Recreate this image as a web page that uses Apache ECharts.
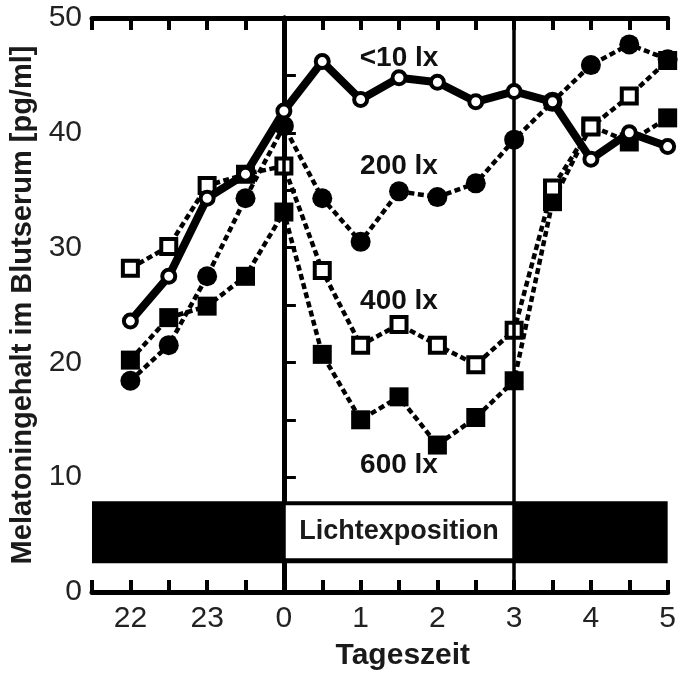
<!DOCTYPE html>
<html>
<head>
<meta charset="utf-8">
<script src="https://cdn.jsdelivr.net/npm/echarts@6/dist/echarts.min.js"></script>
<style>
  html, body { margin: 0; padding: 0; background: #fff; }
  #chart { width: 679px; height: 676px; }
</style>
</head>
<body>
<div id="chart"></div>
<script>
// hours relative to midnight (-2 = 22 Uhr)
var times = [-2, -1.5, -1, -0.5, 0, 0.5, 1, 1.5, 2, 2.5, 3, 3.5, 4, 4.5, 5];
var lx10  = [23.6, 27.5, 34.3, 36.4, 41.9, 46.2, 42.9, 44.8, 44.4, 42.7, 43.6, 42.7, 37.7, 40.0, 38.8];
var lx200 = [18.4, 21.5, 27.5, 34.3, 40.6, 34.3, 30.5, 34.9, 34.4, 35.6, 39.4, 42.7, 45.9, 47.7, 46.4];
var lx400 = [28.2, 30.1, 35.4, 36.4, 37.1, 28.0, 21.5, 23.3, 21.5, 19.8, 22.8, 35.2, 40.5, 43.2, 46.3];
var lx600 = [20.2, 23.9, 24.9, 27.5, 33.1, 20.7, 15.0, 17.0, 12.8, 15.2, 18.4, 34.0, 40.6, 39.2, 41.3];

var labelText = ['<10 lx', '200 lx', '400 lx', '600 lx'];
var labelX = [1.5, 1.5, 1.5, 1.5];
var labelY = [46.5, 37.1, 25.3, 11.0];

var font = 'Liberation Sans';

function pairs (ys) {
  return times.map(function (t, i) { return [t, ys[i]]; });
}

var myChart = echarts.init(document.getElementById('chart'));

var dashed = { color: '#000', width: 4.5, type: [6, 3.5] };

var option = {
  backgroundColor: '#fff',
  animation: false,
  textStyle: { fontFamily: font },
  grid: { left: 92, right: 10, top: 18, bottom: 80 },
  xAxis: [
    {
      type: 'value', position: 'bottom',
      min: -2.5, max: 5, interval: 0.5,
      axisLine: { show: true, onZero: false, lineStyle: { color: '#000', width: 5 } },
      axisTick: { show: true, inside: true, length: 12, lineStyle: { color: '#000', width: 4 } },
      axisLabel: {
        fontSize: 30, color: '#222', margin: 12, fontFamily: font,
        formatter: function (v) {
          if (Math.round(v) !== v) return '';
          return v < 0 ? String(v + 24) : String(v);
        }
      },
      splitLine: { show: false },
      name: 'Tageszeit', nameLocation: 'middle', nameGap: 49,
      nameTextStyle: { fontSize: 30, fontWeight: 'bold', color: '#1a1a1a', fontFamily: font, padding: [0, 0, 0, 46] }
    },
    {
      type: 'value', position: 'top',
      min: -2.5, max: 5, interval: 0.5,
      axisLine: { show: true, onZero: false, lineStyle: { color: '#000', width: 5 } },
      axisTick: { show: true, inside: true, length: 12, lineStyle: { color: '#000', width: 4 } },
      axisLabel: { show: false },
      splitLine: { show: false }
    }
  ],
  yAxis: [
    {
      type: 'value', position: 'left',
      min: 0, max: 50, interval: 5,
      axisLine: { show: true, lineStyle: { color: '#000', width: 5 } },
      axisTick: { show: true, inside: true, length: 12, lineStyle: { color: '#000', width: 3 } },
      axisLabel: {
        fontSize: 30, color: '#222', margin: 10, fontFamily: font,
        formatter: function (v) { return v % 10 === 0 ? String(v) : ''; }
      },
      splitLine: { show: false },
      name: 'Melatoningehalt im Blutserum [pg/ml]', nameLocation: 'middle', nameGap: 50,
      nameTextStyle: { fontSize: 29, fontWeight: 'bold', color: '#1a1a1a', fontFamily: font }
    },
    {
      type: 'value', position: 'right',
      min: 0, max: 50,
      axisLine: { show: true, lineStyle: { color: '#000', width: 5 } },
      axisTick: { show: false },
      axisLabel: { show: false },
      splitLine: { show: false }
    }
  ],
  series: [
    {
      name: 'bar', type: 'line', data: [], z: 1, silent: true,
      markArea: {
        silent: true,
        data: [
          [{ coord: [-2.5, 7.9], itemStyle: { color: '#000' } }, { coord: [5, 2.5] }],
          [{
            coord: [0, 7.55], itemStyle: { color: '#fff' },
            label: {
              show: true, position: 'inside', formatter: 'Lichtexposition', fontSize: 27, fontWeight: 'bold',
              color: '#1a1a1a', fontFamily: font, textBorderWidth: 0
            }
          }, { coord: [3, 2.95] }]
        ]
      }
    },
    {
      name: 'lines', type: 'line', data: [], z: 2, silent: true,
      markLine: {
        silent: true, symbol: ['none', 'none'],
        label: { show: false },
        lineStyle: { color: '#000', width: 3.5, type: 'solid' },
        data: [{ xAxis: 0 }, { xAxis: 3 }]
      }
    },
    {
      name: '600 lx', type: 'line', z: 3, data: pairs(lx600),
      lineStyle: dashed,
      symbol: 'rect', symbolSize: 19,
      itemStyle: { color: '#000', borderColor: '#000', borderWidth: 0 }
    },
    {
      name: '400 lx', type: 'line', z: 4, data: pairs(lx400),
      lineStyle: dashed,
      symbol: 'rect', symbolSize: 15,
      itemStyle: { color: '#fff', borderColor: '#000', borderWidth: 4 }
    },
    {
      name: '200 lx', type: 'line', z: 5, data: pairs(lx200),
      lineStyle: dashed,
      symbol: 'circle', symbolSize: 20,
      itemStyle: { color: '#000', borderColor: '#000', borderWidth: 0 }
    },
    {
      name: '<10 lx', type: 'line', z: 6, data: pairs(lx10),
      lineStyle: { color: '#000', width: 8 },
      symbol: 'circle', symbolSize: 13,
      itemStyle: { color: '#fff', borderColor: '#000', borderWidth: 4 }
    },
    {
      name: 'labels', type: 'scatter', z: 7, silent: true,
      symbolSize: 0,
      itemStyle: { color: '#000', opacity: 1 },
      data: labelX.map(function (x, i) { return [x, labelY[i], labelText[i]]; }),
      label: {
        show: true, position: 'inside', fontSize: 28, fontWeight: 'bold', color: '#111', fontFamily: font,
        opacity: 1, textBorderWidth: 0, textBorderColor: 'transparent',
        formatter: function (p) { return p.value[2]; }
      }
    }
  ]
};

myChart.setOption(option);
myChart.resize();
</script>
</body>
</html>
